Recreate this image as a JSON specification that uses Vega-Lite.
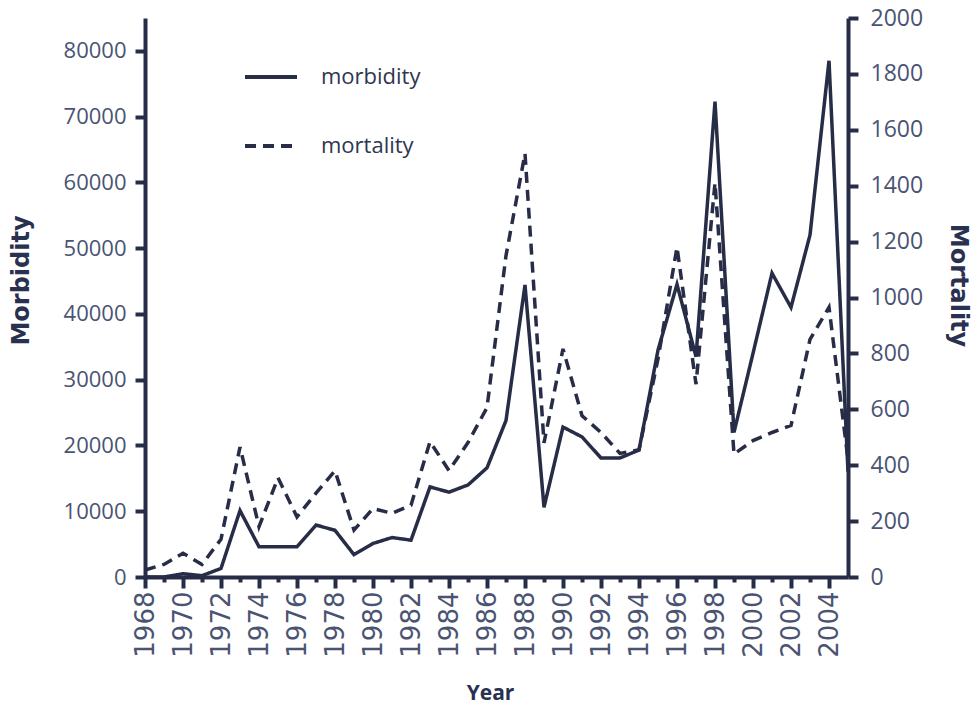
{
  "$schema": "https://vega.github.io/schema/vega-lite/v6.json",
  "width": 703,
  "height": 559,
  "autosize": {"type": "none"},
  "padding": {"left": 145, "top": 18, "right": 128, "bottom": 132},
  "background": "white",
  "config": {
    "view": {"stroke": null},
    "font": "Open Sans",
    "axis": {
      "domainColor": "#272c47",
      "domainWidth": 4,
      "tickColor": "#272c47",
      "tickWidth": 4,
      "grid": false,
      "labelColor": "#4a5472",
      "labelFont": "Open Sans",
      "labelFontSize": 22,
      "titleFont": "DejaVu Sans",
      "titleFontWeight": "bold",
      "titleFontSize": 24,
      "titleColor": "#2a3150"
    }
  },
  "data": {
    "values": [
      {"year": 1968, "morbidity": 0, "mortality": 25},
      {"year": 1969, "morbidity": 0, "mortality": 45},
      {"year": 1970, "morbidity": 500, "mortality": 85},
      {"year": 1971, "morbidity": 200, "mortality": 45},
      {"year": 1972, "morbidity": 1300, "mortality": 135},
      {"year": 1973, "morbidity": 10100, "mortality": 465},
      {"year": 1974, "morbidity": 4600, "mortality": 180},
      {"year": 1975, "morbidity": 4600, "mortality": 355},
      {"year": 1976, "morbidity": 4600, "mortality": 215},
      {"year": 1977, "morbidity": 7900, "mortality": 300},
      {"year": 1978, "morbidity": 7100, "mortality": 380},
      {"year": 1979, "morbidity": 3400, "mortality": 168},
      {"year": 1980, "morbidity": 5100, "mortality": 245},
      {"year": 1981, "morbidity": 6000, "mortality": 228},
      {"year": 1982, "morbidity": 5600, "mortality": 257},
      {"year": 1983, "morbidity": 13700, "mortality": 484},
      {"year": 1984, "morbidity": 12900, "mortality": 381},
      {"year": 1985, "morbidity": 14000, "mortality": 481},
      {"year": 1986, "morbidity": 16600, "mortality": 606},
      {"year": 1987, "morbidity": 23800, "mortality": 1150},
      {"year": 1988, "morbidity": 44400, "mortality": 1515},
      {"year": 1989, "morbidity": 10600, "mortality": 480},
      {"year": 1990, "morbidity": 22800, "mortality": 816},
      {"year": 1991, "morbidity": 21300, "mortality": 577},
      {"year": 1992, "morbidity": 18100, "mortality": 517},
      {"year": 1993, "morbidity": 18100, "mortality": 442},
      {"year": 1994, "morbidity": 19300, "mortality": 455},
      {"year": 1995, "morbidity": 34500, "mortality": 780},
      {"year": 1996, "morbidity": 44500, "mortality": 1180},
      {"year": 1997, "morbidity": 33500, "mortality": 690},
      {"year": 1998, "morbidity": 72300, "mortality": 1410},
      {"year": 1999, "morbidity": 22000, "mortality": 440},
      {"year": 2000, "morbidity": 34000, "mortality": 488},
      {"year": 2001, "morbidity": 46200, "mortality": 517},
      {"year": 2002, "morbidity": 41000, "mortality": 542},
      {"year": 2003, "morbidity": 52000, "mortality": 850},
      {"year": 2004, "morbidity": 78500, "mortality": 965},
      {"year": 2005, "morbidity": 16000, "mortality": 420}
    ]
  },
  "encoding": {
    "x": {
      "field": "year",
      "type": "quantitative",
      "scale": {"domain": [1968, 2005], "nice": false, "zero": false},
      "axis": {
        "title": "Year",
        "titleFont": "Open Sans",
        "titleFontSize": 21,
        "values": [1968,1969,1970,1971,1972,1973,1974,1975,1976,1977,1978,1979,1980,1981,1982,1983,1984,1985,1986,1987,1988,1989,1990,1991,1992,1993,1994,1995,1996,1997,1998,1999,2000,2001,2002,2003,2004],
        "format": "d",
        "labelExpr": "datum.value % 2 === 0 ? datum.label : ''",
        "labelFont": "DejaVu Sans",
        "labelFontSize": 26,
        "labelAngle": -90,
        "labelAlign": "right",
        "labelBaseline": "middle",
        "labelPadding": 3,
        "labelFlush": false,
        "labelOverlap": false,
        "tickSize": {"condition": {"test": "datum.value % 2 === 1", "value": 5}, "value": 11},
        "titleX": 345,
        "titleY": 116,
        "titleBaseline": "middle",
        "titleAnchor": "middle",
        "titleAlign": "center"
      }
    }
  },
  "layer": [
    {
      "mark": {"type": "line", "color": "#272c47", "strokeWidth": 3.5},
      "encoding": {
        "y": {
          "field": "morbidity",
          "type": "quantitative",
          "scale": {"domain": [0, 85000], "nice": false},
          "axis": {
            "title": "Morbidity",
            "orient": "left",
            "values": [0,10000,20000,30000,40000,50000,60000,70000,80000],
            "format": "d",
            "tickSize": 10,
            "labelPadding": 9,
            "titleX": -124,
            "titleY": 262,
            "titleAngle": -90,
            "titleBaseline": "middle",
            "titleAlign": "center"
          }
        },
        "strokeDash": {
          "datum": "morbidity",
          "type": "nominal",
          "scale": {"domain": ["morbidity", "mortality"], "range": [[1, 0], [11, 7]]},
          "legend": {
            "title": null,
            "orient": "none",
            "legendX": 98,
            "legendY": 31,
            "symbolType": "stroke",
            "symbolSize": 2700,
            "symbolStrokeWidth": 4,
            "symbolStrokeColor": "#272c47",
            "labelFontSize": 22,
            "labelColor": "#2f3650",
            "labelFont": "Open Sans",
            "labelOffset": 22,
            "rowPadding": 30
          }
        }
      }
    },
    {
      "mark": {"type": "line", "color": "#272c47", "strokeWidth": 3.5},
      "encoding": {
        "y": {
          "field": "mortality",
          "type": "quantitative",
          "scale": {"domain": [0, 2000], "nice": false},
          "axis": {
            "title": "Mortality",
            "orient": "right",
            "values": [0,200,400,600,800,1000,1200,1400,1600,1800,2000],
            "format": "d",
            "tickSize": 10,
            "labelPadding": 12,
            "labelFontSize": 23,
            "titleX": 109,
            "titleY": 267,
            "titleAngle": 90,
            "titleBaseline": "middle",
            "titleAlign": "center"
          }
        },
        "strokeDash": {"datum": "mortality", "type": "nominal"}
      }
    }
  ],
  "resolve": {"scale": {"y": "independent"}}
}
